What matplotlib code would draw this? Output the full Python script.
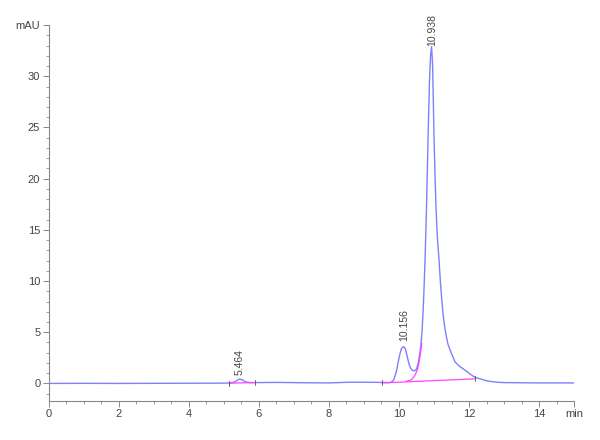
import matplotlib
matplotlib.use("Agg")
import matplotlib.pyplot as plt
from matplotlib.ticker import MultipleLocator

plt.rcParams['font.family'] = ['Liberation Sans', 'DejaVu Sans']

# chromatogram trace (min, mAU)
time = [0, 1, 2, 3, 4, 5.0, 5.2, 5.32, 5.4, 5.46, 5.53, 5.62, 5.75, 5.9, 6.5, 7, 7.5,
        8.0, 8.6, 9.0, 9.5, 9.7, 9.78, 9.85, 9.92, 9.97, 10.02, 10.07, 10.13, 10.18,
        10.23, 10.28, 10.33, 10.38, 10.44, 10.5, 10.55, 10.59, 10.63, 10.66, 10.69,
        10.72, 10.75, 10.78, 10.81, 10.84, 10.87, 10.9, 10.93, 10.96, 10.98, 11.0,
        11.03, 11.06, 11.1, 11.14, 11.18, 11.22, 11.26, 11.3, 11.35, 11.4, 11.5, 11.6,
        11.7, 11.8, 11.9, 12.0, 12.1, 12.2, 12.27, 12.33, 12.45, 12.6, 12.8, 13.0,
        14.0, 15.0]
signal = [0.0, 0.01, 0.0, 0.01, 0.02, 0.03, 0.05, 0.15, 0.35, 0.42, 0.35, 0.15, 0.08,
          0.08, 0.1, 0.08, 0.06, 0.05, 0.12, 0.12, 0.1, 0.08, 0.12, 0.35, 1.1, 1.96,
          2.8, 3.4, 3.6, 3.4, 2.7, 1.96, 1.5, 1.28, 1.23, 1.4, 2.0, 2.8, 3.9, 5.2, 7.2,
          9.8, 12.8, 16.5, 21.0, 25.5, 29.5, 32.0, 32.9, 31.0, 27.5, 24.0, 20.0, 16.8,
          14.0, 12.2, 10.0, 8.2, 6.7, 5.6, 4.6, 3.8, 2.9, 2.1, 1.75, 1.5, 1.25, 1.0,
          0.75, 0.55, 0.5, 0.45, 0.3, 0.2, 0.12, 0.08, 0.05, 0.05]

# integration baselines
base1_t = [5.16, 5.89]
base1_y = [0.03, 0.08]
base2_t = [9.52, 12.17]
base2_y = [0.05, 0.45]
skim_t = [10.2, 10.35, 10.45, 10.52, 10.57, 10.61, 10.65]
skim_y = [0.2, 0.35, 0.75, 1.3, 2.0, 2.9, 3.9]

peak_labels = ['5.464', '10.156', '10.938']
peak_t = [5.464, 10.156, 10.938]
peak_y = [0.8, 4.1, 33.0]

fig = plt.figure(figsize=(6, 4.4), dpi=100)
ax = fig.add_axes([0.081, 0.089, 0.876, 0.854])

ax.plot(time, signal, color='#7f7fff', lw=1.0)
ax.plot(base1_t, base1_y, color='#ff44ff', lw=0.9)
ax.plot(base2_t, base2_y, color='#ff44ff', lw=0.9)
ax.plot(skim_t, skim_y, color='#ff44ff', lw=0.9)
for tt, yy in zip(base1_t + base2_t, base1_y + base2_y):
    ax.plot([tt, tt], [yy - 0.25, yy + 0.25], color='#555555', lw=0.6)

for lab, tt, yy in zip(peak_labels, peak_t, peak_y):
    ax.text(tt, yy, lab, rotation=90, ha='center', va='bottom', fontsize=7.5,
            color='#444444', clip_on=False)

ax.set_xlim(0, 15)
ax.set_ylim(-1.7, 35)
ax.xaxis.set_minor_locator(MultipleLocator(0.5))
ax.yaxis.set_minor_locator(MultipleLocator(1))
ax.set_xticks(list(range(0, 15, 2)) + [15])
ax.set_xticklabels([str(v) for v in range(0, 15, 2)] + ['min'])
ax.set_yticks(list(range(0, 36, 5)))
ax.set_yticklabels([str(v) for v in range(0, 31, 5)] + ['mAU'])

for s in ['top', 'right']:
    ax.spines[s].set_visible(False)
for s in ['left', 'bottom']:
    ax.spines[s].set_color('#888888')
    ax.spines[s].set_linewidth(0.8)
ax.tick_params(which='major', length=4, width=0.7, color='#888888',
               labelsize=8, labelcolor='#444444', pad=2)
ax.tick_params(which='minor', length=2.5, width=0.6, color='#888888')

fig.savefig('out.png', dpi=100)
